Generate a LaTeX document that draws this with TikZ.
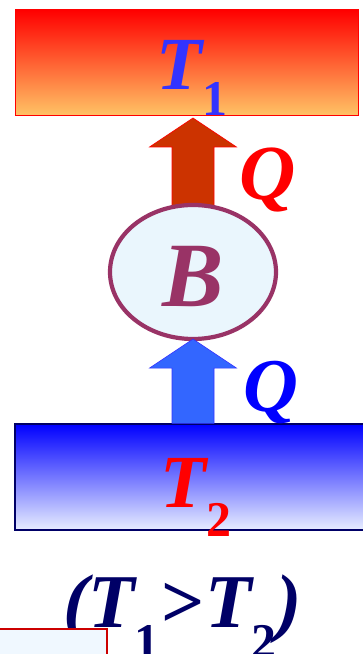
\documentclass[tikz,border=0pt]{standalone}
\usepackage{fontspec}
\setmainfont{Liberation Serif}
\usepackage{tikz}
\usetikzlibrary{calc,positioning,shapes.geometric}
\definecolor{sicakUst}{HTML}{FF0000}
\definecolor{sicakAlt}{HTML}{FFC466}
\definecolor{sogukUst}{HTML}{0000FF}
\definecolor{sogukAlt}{HTML}{E8EEFF}
\definecolor{lacivert}{HTML}{000066}
\definecolor{morKenar}{HTML}{993366}
\definecolor{buzMavi}{HTML}{EAF6FD}
\definecolor{okKirmizi}{HTML}{CC3300}
\definecolor{okMavi}{HTML}{3366FF}
\definecolor{yaziMavi}{HTML}{3333FF}
\definecolor{kutuZemin}{HTML}{F0F8FF}
\definecolor{kutuKenar}{HTML}{CC0000}
\newcommand{\buyuk}[1]{\fontsize{#1pt}{#1pt}\selectfont}
\newcommand{\altindis}[2]{\raisebox{-#1pt}{\buyuk{50}\upshape #2}}

\begin{document}
\begin{tikzpicture}[x=1pt,y=1pt,
  yazi/.style={inner sep=0pt,anchor=base west,font=\bfseries\itshape},
  depo/.style={minimum width=343pt,minimum height=106pt,inner sep=0pt}]
\useasboundingbox (0,0) rectangle (363,654);
% depolar
\node[depo,draw=red,line width=1pt,top color=sicakUst,bottom color=sicakAlt] (sicak) at (186.5,591) {};
\node[depo,minimum width=351pt,draw=lacivert,line width=1.2pt,top color=sogukUst,bottom color=sogukAlt] (soguk) at (190.5,177) {};
\node[yazi,text=yaziMavi] (sicakYazi) at (156,564) {\buyuk{75}T\altindis{26}{1}};
\node[yazi,text=red] (sogukYazi) at (160,146) {\buyuk{75}T\altindis{29}{2}};
% ust ok (makine arkasinda)
\coordinate (kirmiziUc) at (193,536);
\draw[fill=okKirmizi,draw=red,line width=0.6pt] (kirmiziUc) -- ++(43.5,-29) -- ++(-22.5,0) -- ++(0,-63)
  -- ++(-42,0) -- ++(0,63) -- ++(-22.5,0) -- cycle;
% makine
\node[ellipse,draw=morKenar,line width=4.2pt,fill=buzMavi,minimum width=166pt,minimum height=134pt] (makine) at (193,382) {};
\node[yazi,anchor=base,text=morKenar] (makineYazi) at (makine.center |- 0,347) {\buyuk{92}B};
% alt ok
\coordinate (maviUc) at ([yshift=2pt]makine.south);
\coordinate (maviTaban) at (maviUc |- soguk.north);
\draw[fill=okMavi,draw=yaziMavi,line width=0.6pt] (maviUc) -- ++(43.5,-29) -- ++(-22.5,0)
  -- ($(maviTaban)+(21,0)$) -- ($(maviTaban)+(-21,0)$) -- ($(maviUc)+(-21,-29)$) -- ++(-22.5,0) -- cycle;
\node[yazi,anchor=base,text=red] (ustQ) at (268,454) {\buyuk{78}Q};
\node[yazi,anchor=base,text=sogukUst] (altQ) at (271,242) {\buyuk{76}Q};
% kosul
\node[yazi,text=lacivert] (kosul) at (63,27) {\buyuk{76}(T\altindis{32}{1}\hspace{2pt}{\upshape>}T\altindis{32}{2})};
\draw[fill=kutuZemin,draw=kutuKenar,line width=1.5pt] (-3,25) rectangle (107,-5);
\end{tikzpicture}
\end{document}
